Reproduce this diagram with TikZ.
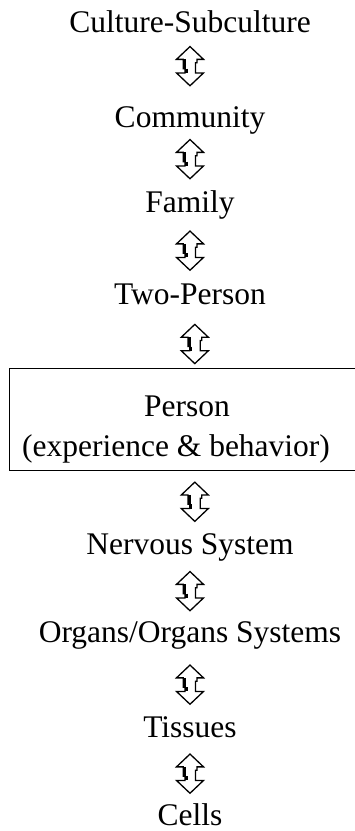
\documentclass[tikz,border=0pt]{standalone}
\usepackage{fontspec}
\setmainfont{Liberation Serif}
\usetikzlibrary{calc}

\begin{document}
\begin{tikzpicture}[x=1pt, y=1pt, line width=1.2pt,
  level/.style={anchor=south, inner sep=0pt, text height=20.5pt, text depth=0pt,
                font=\fontsize{31.5}{38}\selectfont},
  updown/.pic={
    \draw[line width=1.3pt, line join=miter]
      (0,19.6) -- (13.5,6.8) -- (7,6.8) -- (7,3.5) -- (5.5,3.5) -- (5.5,-6.8)
      -- (13.5,-6.8) -- (0,-19.6) -- (-13.5,-6.8) -- (-5,-6.8) -- (-5,-2.5)
      -- (-6.8,-2.5) -- (-6.8,6.8) -- (-13.5,6.8) -- cycle;
    \draw[line width=3pt] (-5.8,6.8) -- (-5.8,-2.5) (-4,-2.5) -- (-4,-6.8);}]
  \useasboundingbox (0,0) rectangle (355,-831);
  \clip (0,0) rectangle (355,-831);
  % levels above and below the person
  \foreach \n/\t/\y in {cult/Culture-Subculture/33, comm/Community/128, fam/Family/213,
      two/Two-Person/305, nerv/Nervous System/555, org/{Organs/Organs Systems}/643,
      tis/Tissues/738, cell/Cells/826}
    \node[level] (\n) at (190,-\y) {\t};
  % the person box, open to the right
  \node[draw, anchor=north west, minimum width=380pt, minimum height=102pt,
        inner sep=0pt] (pers) at (9,-368) {};
  \node[level] (pname) at (187,-417) {Person};
  \node[level] (pdesc) at (176,-457) {(experience \& behavior)};
  % double arrows between the levels
  \foreach \a/\b/\s in {cult/comm/3.5, comm/fam/0.5, fam/two/-2.5, two/pers/-7.5,
      pers/nerv/0.5, nerv/org/-3, org/tis/-5, tis/cell/-2.5}
    \pic at ($(\a.south)!0.5!(\b.north)+(0,\s)$) {updown};
\end{tikzpicture}
\end{document}
